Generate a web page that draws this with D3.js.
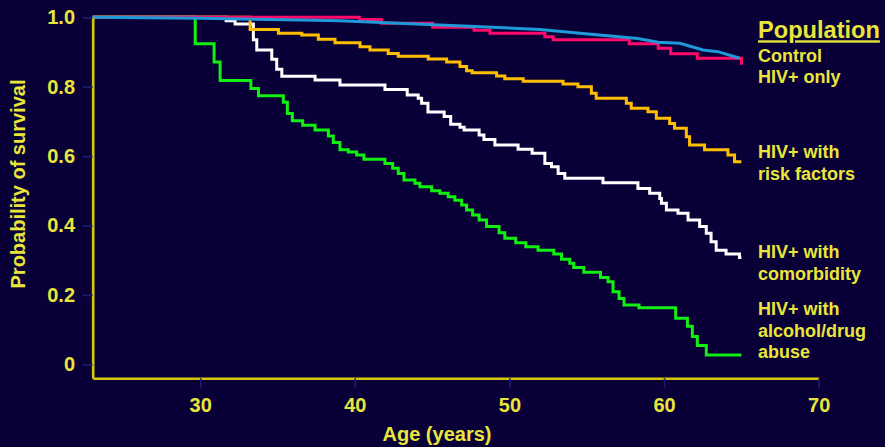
<!DOCTYPE html>
<html>
<head>
<meta charset="utf-8">
<script src="https://cdn.jsdelivr.net/npm/d3@7"></script>
<style>
  html, body { margin: 0; padding: 0; background: #0a0038; }
  svg { display: block; }
  text { font-family: "Liberation Sans", Arial, sans-serif; font-weight: bold; }
</style>
</head>
<body>
<svg id="chart" width="885" height="447"></svg>
<script>
// ---- Data (age in years, survival probability after each step) ----
const xTicks = [30, 40, 50, 60, 70];
const yTicks = [0, 0.2, 0.4, 0.6, 0.8, 1.0];
const yTickLabels = ["0", "0.2", "0.4", "0.6", "0.8", "1.0"];

const abuseSeries = [
  [23.05,1.0],[29.68,0.924],[30.90,0.871],[31.29,0.818],[33.28,0.795],[33.77,0.774],
  [35.38,0.755],[35.64,0.723],[35.96,0.702],[36.63,0.689],[37.43,0.675],[38.29,0.658],
  [38.61,0.639],[39.04,0.618],[39.58,0.612],[40.12,0.603],[40.59,0.591],[41.95,0.579],
  [42.45,0.565],[42.81,0.550],[43.18,0.531],[43.89,0.522],[44.21,0.512],[44.97,0.500],
  [45.50,0.493],[46.04,0.483],[46.47,0.473],[46.91,0.459],[47.23,0.445],[47.62,0.430],
  [48.04,0.416],[48.52,0.397],[49.33,0.379],[49.70,0.363],[50.41,0.350],[51.06,0.339],
  [51.85,0.329],[52.87,0.318],[53.37,0.303],[53.90,0.291],[54.16,0.279],[54.81,0.265],
  [55.89,0.250],[56.38,0.238],[56.70,0.209],[57.09,0.190],[57.41,0.171],[58.38,0.163],
  [60.75,0.133],[61.51,0.110],[61.83,0.080],[62.15,0.054],[62.73,0.027],[65.0,0.027]
];
const comorbiditySeries = [
  [23.05,1.0],[31.68,0.990],[32.26,0.981],[33.44,0.935],[33.66,0.906],[34.63,0.879],
  [34.95,0.850],[35.28,0.830],[37.43,0.819],[39.04,0.805],[41.95,0.792],[43.39,0.776],
  [44.10,0.767],[44.32,0.752],[44.73,0.727],[45.78,0.714],[46.20,0.692],[46.80,0.683],
  [47.07,0.675],[48.04,0.661],[48.35,0.648],[49.06,0.632],[50.56,0.620],[51.47,0.608],
  [52.29,0.579],[52.72,0.569],[53.15,0.550],[53.58,0.536],[56.05,0.523],[58.31,0.507],
  [59.07,0.493],[59.72,0.478],[59.83,0.464],[60.15,0.445],[60.90,0.435],[61.55,0.416],
  [62.30,0.397],[62.73,0.378],[63.04,0.353],[63.37,0.329],[64.01,0.318],[64.88,0.308],
  [65.0,0.308]
];
const riskSeries = [
  [23.05,1.0],[33.23,0.965],[35.06,0.954],[36.57,0.949],[37.64,0.937],[38.72,0.927],
  [40.34,0.915],[40.98,0.906],[42.16,0.896],[42.81,0.888],[44.75,0.880],[45.94,0.871],
  [46.80,0.858],[47.23,0.846],[47.59,0.840],[49.17,0.831],[49.70,0.823],[50.89,0.816],
  [53.47,0.808],[54.43,0.800],[55.30,0.781],[55.61,0.767],[57.56,0.752],[57.88,0.738],
  [58.96,0.728],[59.50,0.709],[60.36,0.694],[60.68,0.680],[61.44,0.656],[61.65,0.632],
  [62.62,0.618],[64.13,0.603],[64.56,0.584],[65.0,0.584]
];
const controlSeries = [
  [23.05,1.0],[40.30,0.994],[41.74,0.983],[45.04,0.971],[47.71,0.963],[48.74,0.954],
  [52.29,0.944],[52.83,0.935],[57.75,0.924],[59.62,0.911],[60.43,0.895],[62.15,0.882],
  [65.0,0.863]
];
const hivOnlySeries = [
  [23.05,1.0],[30.0,0.997],[36.46,0.992],[39.05,0.990],[45.5,0.978],[51.98,0.965],
  [54.56,0.954],[58.31,0.939],[59.6,0.928],[61.03,0.925],[62.52,0.906],[63.48,0.901],
  [64.9,0.882]
];

const seriesNames = ["HIV+ with alcohol/drug abuse","HIV+ with comorbidity","HIV+ with risk factors","Control","HIV+ only"];
const seriesData = [abuseSeries, comorbiditySeries, riskSeries, controlSeries, hivOnlySeries];
const seriesColors = ["#11f011", "#ffffff", "#ffbf00", "#ff0a6a", "#1e9ad8"];
const seriesStepped = [true, true, true, true, false];

const legendTitle = "Population";
const legendLines = [
  ["Control", "HIV+ only"],
  ["HIV+ with", "risk factors"],
  ["HIV+ with", "comorbidity"],
  ["HIV+ with", "alcohol/drug", "abuse"]
];

// ---- Layout ----
const svg = d3.select("#chart");
const yellowText = "#e8e63a";
const axisYellow = "#d6c808";
const tickDark = "#1c1c72";

svg.append("rect").attr("width", 885).attr("height", 447).attr("fill", "#0a0038");

const x = d3.scaleLinear().domain([23.05, 70]).range([92.7, 818.7]);
const y = d3.scaleLinear().domain([-0.04, 1]).range([378.2, 17.3]);

// Curves
seriesData.forEach((d, i) => {
  const line = d3.line()
    .x(p => x(p[0]))
    .y(p => y(p[1]))
    .curve(seriesStepped[i] ? d3.curveStepAfter : d3.curveLinear);
  svg.append("path")
    .datum(d)
    .attr("fill", "none")
    .attr("stroke", seriesColors[i])
    .attr("stroke-width", 3)
    .attr("stroke-linejoin", "miter")
    .attr("d", line);
});

// Axes
const yAxis = d3.axisLeft(y).tickValues(yTicks)
  .tickFormat((d, i) => yTickLabels[i]).tickSize(10).tickSizeOuter(0).tickPadding(7.7);
const gy = svg.append("g").attr("transform", `translate(${x(23.05)},0)`).call(yAxis);

const xAxis = d3.axisBottom(x).tickValues(xTicks).tickFormat(d3.format("d"))
  .tickSize(10).tickSizeOuter(0).tickPadding(9.8);
const gx = svg.append("g").attr("transform", `translate(0,${y(-0.04)})`).call(xAxis);

[gx, gy].forEach(g => {
  g.select(".domain").attr("stroke", axisYellow).attr("stroke-width", 2.6);
  g.selectAll(".tick line").attr("stroke", tickDark).attr("stroke-width", 1.6);
  g.selectAll(".tick text").attr("fill", yellowText).attr("font-size", 20)
    .attr("font-family", "Liberation Sans, Arial, sans-serif").attr("font-weight", "bold");
});

// Axis titles
svg.append("text").attr("x", 437).attr("y", 441).attr("text-anchor", "middle")
  .attr("fill", yellowText).attr("font-size", 20).text("Age (years)");
svg.append("text").attr("transform", "translate(24.5,184) rotate(-90)")
  .attr("text-anchor", "middle").attr("fill", yellowText).attr("font-size", 20)
  .text("Probability of survival");

// Legend
svg.append("text").attr("x", 758).attr("y", 38.3).attr("fill", yellowText)
  .attr("font-size", 23.6).attr("text-decoration", "underline").text(legendTitle);
const legendBaselines = [61.7, 158.3, 258.3, 315];
legendLines.forEach((lines, i) => {
  lines.forEach((t, j) => {
    svg.append("text").attr("x", 758).attr("y", legendBaselines[i] + j * 21.5)
      .attr("fill", yellowText).attr("font-size", 18).text(t);
  });
});
</script>
</body>
</html>
